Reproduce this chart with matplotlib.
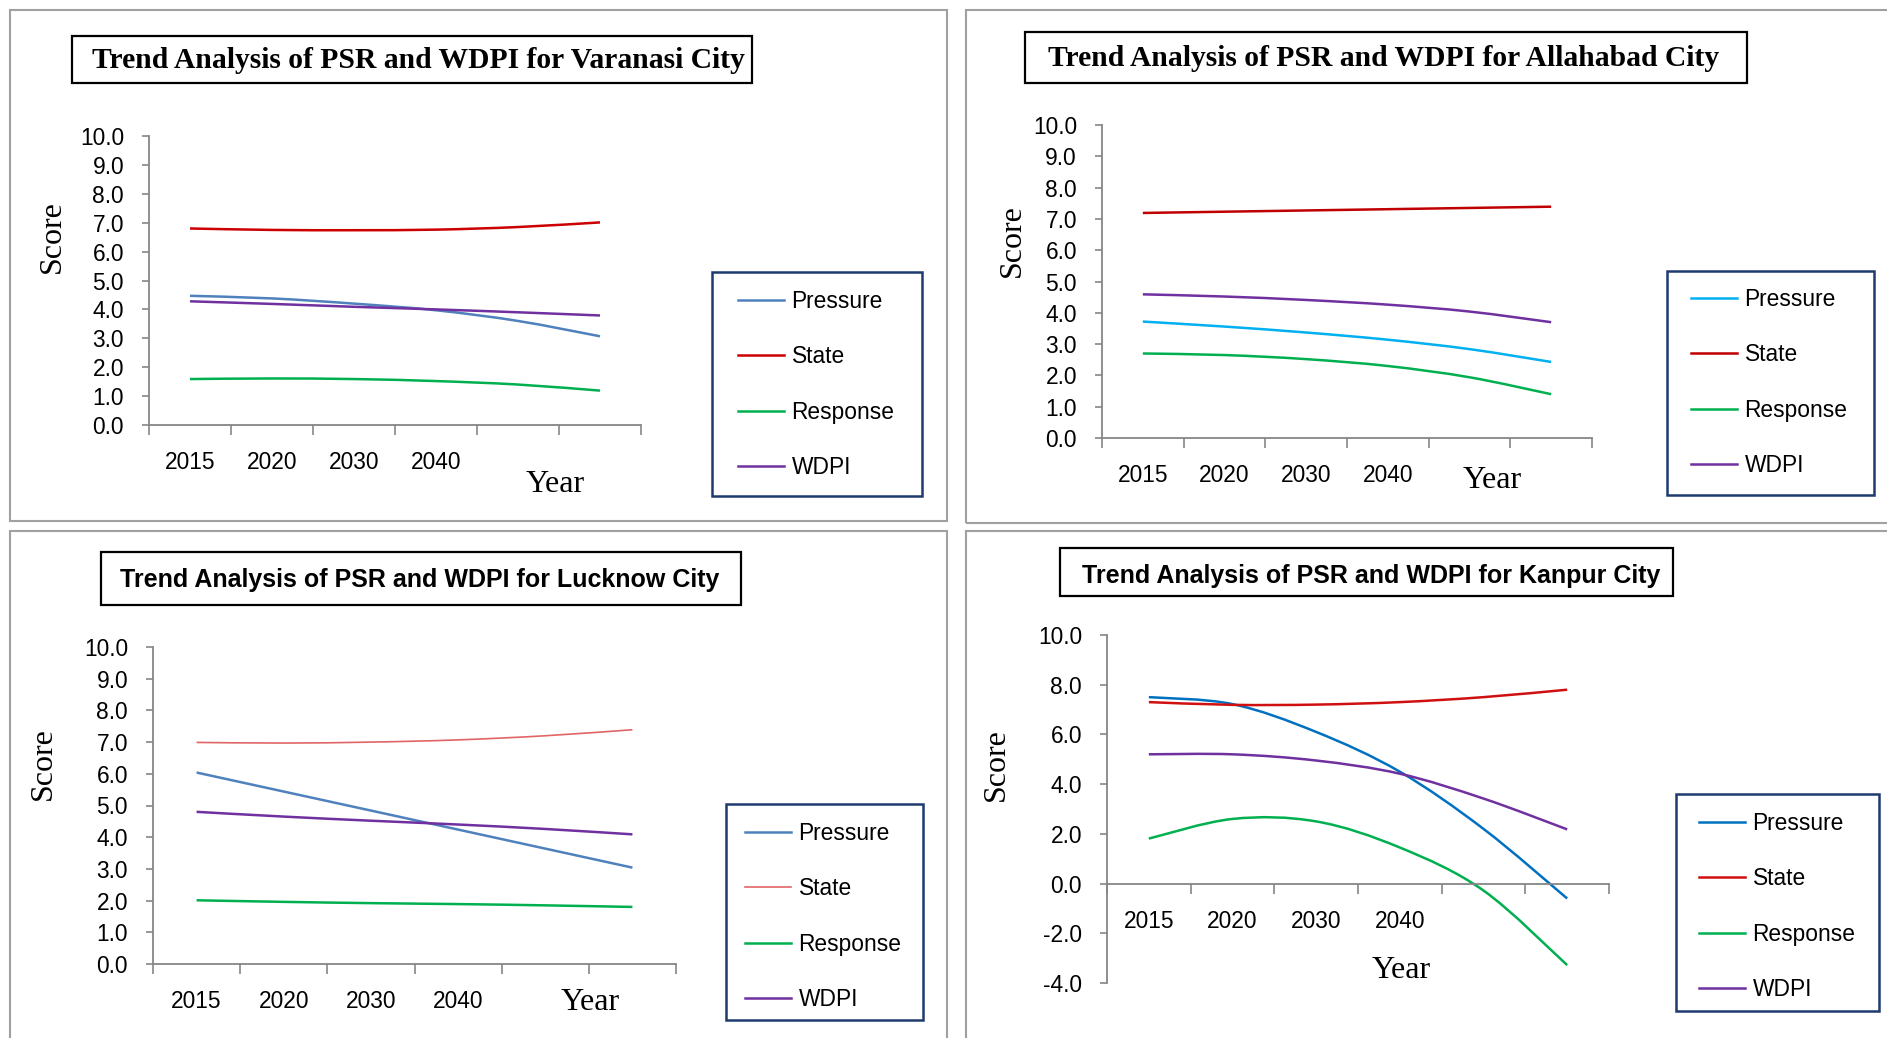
import matplotlib
matplotlib.use('Agg')
import matplotlib.pyplot as plt
from matplotlib.path import Path
from matplotlib.patches import PathPatch, Rectangle
from matplotlib.lines import Line2D
from matplotlib import font_manager

# ---- data ----
years = ['2015', '2020', '2030', '2040', '', '']
series = ['Pressure', 'State', 'Response', 'WDPI']

varanasi_pressure = [4.47, 4.38, 4.20, 3.97, 3.60, 3.07]
varanasi_state = [6.80, 6.75, 6.74, 6.76, 6.85, 7.01]
varanasi_response = [1.59, 1.61, 1.59, 1.52, 1.40, 1.19]
varanasi_wdpi = [4.28, 4.19, 4.09, 4.00, 3.90, 3.79]

allahabad_pressure = [3.72, 3.56, 3.37, 3.14, 2.84, 2.43]
allahabad_state = [7.19, 7.23, 7.27, 7.31, 7.35, 7.39]
allahabad_response = [2.70, 2.65, 2.52, 2.30, 1.94, 1.40]
allahabad_wdpi = [4.59, 4.52, 4.41, 4.26, 4.04, 3.70]

lucknow_pressure = [6.04, 5.44, 4.84, 4.24, 3.64, 3.04]
lucknow_state = [6.99, 6.97, 7.00, 7.07, 7.20, 7.39]
lucknow_response = [2.01, 1.96, 1.92, 1.89, 1.85, 1.80]
lucknow_wdpi = [4.80, 4.65, 4.52, 4.40, 4.26, 4.09]

kanpur_pressure = [7.50, 7.22, 6.10, 4.50, 2.20, -0.60]
kanpur_state = [7.30, 7.19, 7.20, 7.30, 7.50, 7.80]
kanpur_response = [1.81, 2.60, 2.50, 1.45, -0.28, -3.28]
kanpur_wdpi = [5.20, 5.20, 4.95, 4.42, 3.42, 2.18]

W, H = 1887, 1038


def fx(px):
    return px / W


def fy(py):
    return 1 - py / H


# fonts: condensed sans as a stand-in for Calibri
try:
    font_manager.findfont(font_manager.FontProperties(family='Liberation Sans Narrow'),
                          fallback_to_default=False)
    SANS = ['Liberation Sans Narrow', 'DejaVu Sans']
    k = 1.0
except Exception:
    SANS = ['Liberation Sans', 'DejaVu Sans']
    k = 0.82
SERIF = ['Liberation Serif', 'DejaVu Serif']
plt.rcParams['font.family'] = SANS

AXIS_GRAY = '#868686'
BOX_NAVY = '#1f3a6e'


def smooth_line(ax, y, color, lw):
    """Excel-style smoothed line through the category points (cubic Bezier)."""
    x = [i + 0.5 for i in range(len(y))]
    n = len(x)
    verts = [(x[0], y[0])]
    codes = [Path.MOVETO]
    for i in range(n - 1):
        p = max(i - 1, 0)
        q = min(i + 2, n - 1)
        c1 = (x[i] + (x[i + 1] - x[p]) / 6, y[i] + (y[i + 1] - y[p]) / 6)
        c2 = (x[i + 1] - (x[q] - x[i]) / 6, y[i + 1] - (y[q] - y[i]) / 6)
        verts += [c1, c2, (x[i + 1], y[i + 1])]
        codes += [Path.CURVE4] * 3
    ax.add_patch(PathPatch(Path(verts, codes), fill=False, edgecolor=color,
                           lw=lw, capstyle='butt'))


fig = plt.figure(figsize=(W / 100, H / 100), dpi=100)

# panel frames
for (x0, y0, x1, y1) in [(10, 10, 947, 521), (966, 10, 1905, 523),
                         (10, 531, 947, 1050), (966, 531, 1905, 1050)]:
    fig.patches.append(Rectangle((fx(x0), fy(y1)), fx(x1 - x0), (y1 - y0) / H,
                                 transform=fig.transFigure, fill=False,
                                 edgecolor='#a0a0a0', lw=1.5))

panels = [
    dict(title='Trend Analysis of PSR and WDPI for Varanasi City', serif_title=True,
         data=[varanasi_pressure, varanasi_state, varanasi_response, varanasi_wdpi],
         colors=['#4f81bd', '#cc0000', '#00b050', '#7030a0'], state_lw=1.8,
         axes=(149, 641, 136, 425), ylim=(0, 10), ystep=1.0,
         tbox=(72, 36, 752, 83), tcenter=(418, 60),
         score=(52, 237), year=(555, 484),
         lbox=(712, 272, 922, 496), lentry=(738, 300)),
    dict(title='Trend Analysis of PSR and WDPI for Allahabad City', serif_title=True,
         data=[allahabad_pressure, allahabad_state, allahabad_response, allahabad_wdpi],
         colors=['#00b0f0', '#c00000', '#00b050', '#7030a0'], state_lw=1.8,
         axes=(1102, 1592, 125, 438), ylim=(0, 10), ystep=1.0,
         tbox=(1025, 32, 1747, 83), tcenter=(1384, 58),
         score=(1012, 241), year=(1492, 480),
         lbox=(1667, 271, 1874, 495), lentry=(1691, 298)),
    dict(title='Trend Analysis of PSR and WDPI for Lucknow City', serif_title=False,
         data=[lucknow_pressure, lucknow_state, lucknow_response, lucknow_wdpi],
         colors=['#4f81bd', '#e06666', '#00b050', '#7030a0'], state_lw=1.2,
         axes=(153, 676, 647, 964), ylim=(0, 10), ystep=1.0,
         tbox=(101, 552, 741, 605), tcenter=(420, 580),
         score=(43, 764), year=(590, 1002),
         lbox=(726, 804, 923, 1020), lentry=(745, 832)),
    dict(title='Trend Analysis of PSR and WDPI for Kanpur City', serif_title=False,
         data=[kanpur_pressure, kanpur_state, kanpur_response, kanpur_wdpi],
         colors=['#0070c0', '#d01010', '#00b050', '#7030a0'], state_lw=1.8,
         axes=(1107, 1609, 635, 983), ylim=(-4, 10), ystep=2.0,
         tbox=(1060, 548, 1673, 596), tcenter=(1371, 576),
         score=(996, 765), year=(1401, 971),
         lbox=(1676, 794, 1879, 1011), lentry=(1699, 822)),
]

for p in panels:
    left, right, top, bottom = p['axes']
    ax = fig.add_axes([fx(left), fy(bottom), (right - left) / W, (bottom - top) / H])
    ax.patch.set_alpha(0)
    lo, hi = p['ylim']
    ax.set_xlim(0, 6)
    ax.set_ylim(lo, hi)
    for s in ['top', 'right']:
        ax.spines[s].set_visible(False)
    for s in ['left', 'bottom']:
        ax.spines[s].set_color(AXIS_GRAY)
        ax.spines[s].set_linewidth(1.3)
    if lo < 0:
        ax.spines['bottom'].set_position(('data', 0))

    ax.set_xticks(range(7))
    ax.set_xticklabels([])
    ax.set_xticks([i + 0.5 for i in range(6)], minor=True)
    ax.set_xticklabels(years, minor=True)
    ax.tick_params(axis='x', which='major', direction='out', length=7,
                   width=1.2, color=AXIS_GRAY)
    ax.tick_params(axis='x', which='minor', length=0, pad=19, labelsize=20 * k)

    nt = int(round((hi - lo) / p['ystep'])) + 1
    yt = [lo + i * p['ystep'] for i in range(nt)]
    ax.set_yticks(yt)
    ax.set_yticklabels([f'{v:.1f}' for v in yt])
    ax.tick_params(axis='y', direction='out', length=5, width=1.2,
                   color=AXIS_GRAY, pad=13, labelsize=20 * k)

    handles = []
    for name, vals, col in zip(series, p['data'], p['colors']):
        lw = p['state_lw'] if name == 'State' else 1.8
        smooth_line(ax, vals, col, lw)
        handles.append(Line2D([], [], color=col, lw=lw, label=name))

    # axis titles
    fig.text(fx(p['score'][0]), fy(p['score'][1]), 'Score', rotation=90,
             ha='center', va='center', family=SERIF, fontsize=23)
    fig.text(fx(p['year'][0]), fy(p['year'][1]), 'Year',
             ha='center', va='center', family=SERIF, fontsize=23)

    # title box
    x0, y0, x1, y1 = p['tbox']
    fig.patches.append(Rectangle((fx(x0), fy(y1)), (x1 - x0) / W, (y1 - y0) / H,
                                 transform=fig.transFigure, fill=False,
                                 edgecolor='black', lw=1.6))
    if p['serif_title']:
        fig.text(fx(p['tcenter'][0]), fy(p['tcenter'][1]), p['title'], ha='center',
                 va='center', family=SERIF, fontweight='bold', fontsize=21.3)
    else:
        fig.text(fx(p['tcenter'][0]), fy(p['tcenter'][1]), p['title'], ha='center',
                 va='center', fontweight='bold', fontsize=22 * k)

    # legend box + entries
    x0, y0, x1, y1 = p['lbox']
    fig.patches.append(Rectangle((fx(x0), fy(y1)), (x1 - x0) / W, (y1 - y0) / H,
                                 transform=fig.transFigure, fill=False,
                                 edgecolor=BOX_NAVY, lw=1.8))
    lx, ly = p['lentry']
    fig.legend(handles=handles, loc='upper left',
               bbox_to_anchor=(fx(lx), fy(ly - 10)), frameon=False,
               borderpad=0, borderaxespad=0, handlelength=2.0,
               handletextpad=0.35, labelspacing=1.42, fontsize=20 * k)

fig.savefig('out.png', dpi=100)
